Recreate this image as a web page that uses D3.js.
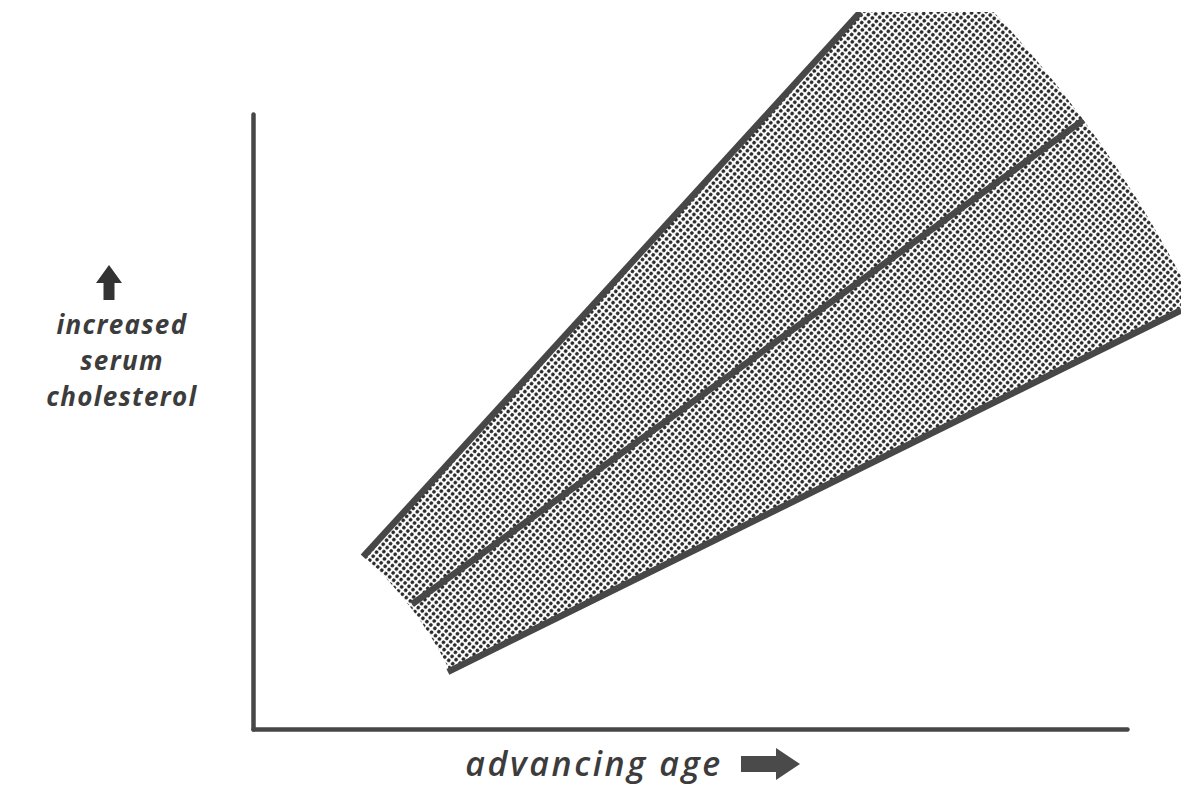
<!DOCTYPE html>
<html>
<head>
<meta charset="utf-8">
<script src="https://cdn.jsdelivr.net/npm/d3@7"></script>
<style>
  body { margin: 0; background: #fff; }
  svg { display: block; }
</style>
</head>
<body>
<script>
// values (age and cholesterol, arbitrary 0-100 units)
var lineNames = ["upper", "trend", "lower"];
var startAge = [12.6, 18.2, 22.3];
var startChol = [28.0, 20.3, 9.3];
var endAge = [69.5, 95.0, 106.2];
var endChol = [116.6, 99.0, 68.1];

var yLabelLines = ["increased", "serum", "cholesterol"];
var xLabel = "advancing age";

var width = 1181,
    height = 787;

var x = d3.scaleLinear().domain([0, 100]).range([253, 1127]);
var y = d3.scaleLinear().domain([0, 100]).range([729, 114]);

var ink = "#474747";

var svg = d3.select("body").append("svg")
    .attr("width", width)
    .attr("height", height);

var defs = svg.append("defs");

// halftone dot screen
var pat = defs.append("pattern")
    .attr("id", "dots")
    .attr("patternUnits", "userSpaceOnUse")
    .attr("width", 5.2)
    .attr("height", 5.2)
    .attr("patternTransform", "rotate(40)");
pat.append("circle")
    .attr("cx", 2.6)
    .attr("cy", 2.6)
    .attr("r", 1.85)
    .attr("fill", "#2a2a2a");

// the scan is cut off a little below the top edge
defs.append("clipPath")
    .attr("id", "page")
  .append("rect")
    .attr("x", 0)
    .attr("y", 12)
    .attr("width", width)
    .attr("height", height - 12);

var lines = lineNames.map(function(n, i) {
    return {
        name: n,
        x1: x(startAge[i]), y1: y(startChol[i]),
        x2: x(endAge[i]), y2: y(endChol[i])
    };
});

// the band is a fan: centre where the outer two lines meet
function meet(a, b) {
    var ma = (a.y2 - a.y1) / (a.x2 - a.x1);
    var mb = (b.y2 - b.y1) / (b.x2 - b.x1);
    var cx = (b.y1 - a.y1 + ma * a.x1 - mb * b.x1) / (ma - mb);
    return [cx, a.y1 + ma * (cx - a.x1)];
}
var c = meet(lines[0], lines[2]);
function angleOf(px, py) { return Math.atan2(px - c[0], -(py - c[1])); }
function dist(px, py) { return Math.hypot(px - c[0], py - c[1]); }

var inner = d3.mean(lines, function(d) { return dist(d.x1, d.y1); });
var outer = dist(lines[1].x2, lines[1].y2);

var band = d3.arc()
    .innerRadius(inner)
    .outerRadius(outer)
    .startAngle(angleOf(lines[0].x2, lines[0].y2))
    .endAngle(angleOf(lines[2].x2, lines[2].y2));

var plot = svg.append("g").attr("clip-path", "url(#page)");

plot.append("path")
    .attr("transform", "translate(" + c + ")")
    .attr("d", band())
    .attr("fill", "url(#dots)");

plot.selectAll(".ln")
    .data(lines)
  .enter().append("line")
    .attr("class", "ln")
    .attr("x1", function(d) { return d.x1; })
    .attr("y1", function(d) { return d.y1; })
    .attr("x2", function(d) { return d.x2; })
    .attr("y2", function(d) { return d.y2; })
    .attr("stroke", ink)
    .attr("stroke-width", 6.5)
    .attr("stroke-linecap", "butt");

// axes without ticks
svg.append("g")
    .attr("transform", "translate(0," + y(0) + ")")
    .call(d3.axisBottom(x).tickValues([]).tickSizeOuter(0));
svg.append("g")
    .attr("transform", "translate(" + x(0) + ",0)")
    .call(d3.axisLeft(y).tickValues([]).tickSizeOuter(0));
svg.selectAll(".domain")
    .attr("stroke", ink)
    .attr("stroke-width", 4.5)
    .attr("stroke-linecap", "round");

// y label, one text per line, with arrow
svg.selectAll(".ylab")
    .data(yLabelLines)
  .enter().append("text")
    .attr("class", "ylab")
    .attr("x", 122)
    .attr("y", function(d, i) { return 334 + i * 36; })
    .attr("text-anchor", "middle")
    .attr("font-family", "'Open Sans', sans-serif")
    .attr("font-style", "italic")
    .attr("font-weight", 700)
    .attr("font-size", 26)
    .attr("letter-spacing", 1.3)
    .attr("fill", "#3c3c3c")
    .text(function(d) { return d; });

var up = d3.path();
up.moveTo(109, 265);
up.lineTo(122, 283);
up.lineTo(114.5, 283);
up.lineTo(114.5, 300);
up.lineTo(103.5, 300);
up.lineTo(103.5, 283);
up.lineTo(96, 283);
up.closePath();
svg.append("path").attr("d", up.toString()).attr("fill", "#333");

// x label with arrow
svg.append("text")
    .attr("x", 594)
    .attr("y", 776)
    .attr("text-anchor", "middle")
    .attr("font-family", "'Open Sans', sans-serif")
    .attr("font-style", "italic")
    .attr("font-weight", 600)
    .attr("font-size", 34)
    .attr("letter-spacing", 2.6)
    .attr("fill", "#3c3c3c")
    .text(xLabel);

var right = d3.path();
right.moveTo(741, 756);
right.lineTo(776, 756);
right.lineTo(776, 748);
right.lineTo(800, 764);
right.lineTo(776, 780);
right.lineTo(776, 772);
right.lineTo(741, 772);
right.closePath();
svg.append("path").attr("d", right.toString()).attr("fill", "#4a4a4a");
</script>
</body>
</html>
